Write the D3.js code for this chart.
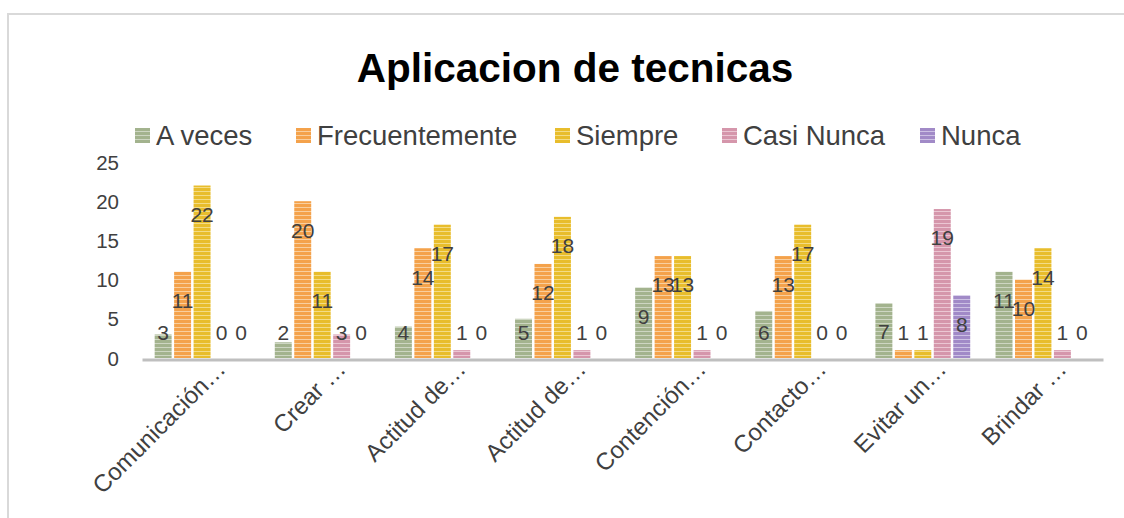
<!DOCTYPE html>
<html>
<head>
<meta charset="utf-8">
<script src="https://cdn.jsdelivr.net/npm/d3@7"></script>
<style>
  body { margin: 0; background: #fff; }
  text { font-family: "Liberation Sans", Arial, sans-serif; fill: #404040; }
</style>
</head>
<body>
<div id="chart"></div>
<script>
let svgWidth = 1124;
let svgHeight = 518;

// data
let categories = ["Comunicación…", "Crear …", "Actitud de…", "Actitud de…",
                  "Contención…", "Contacto…", "Evitar un…", "Brindar …"];
let seriesNames = ["A veces", "Frecuentemente", "Siempre", "Casi Nunca", "Nunca"];
let aVeces = [3, 2, 4, 5, 9, 6, 7, 11];
let frecuentemente = [11, 20, 14, 12, 13, 13, 1, 10];
let siempre = [22, 11, 17, 18, 13, 17, 1, 14];
let casiNunca = [0, 3, 1, 1, 1, 0, 19, 1];
let nunca = [0, 0, 0, 0, 0, 0, 8, 0];
let yTicks = [0, 5, 10, 15, 20, 25];

let seriesValues = [aVeces, frecuentemente, siempre, casiNunca, nunca];
let colors = ["#a3b38e", "#f4a24b", "#e8bd2c", "#d596ab", "#a18ac7"];
let stripes = ["#cdd6c2", "#f9cf9f", "#f3dc86", "#ebc6d3", "#cdc1e4"];

let plot = { left: 142, right: 1103, top: 162, bottom: 358 };

let svg = d3.select("#chart")
    .append("svg")
    .attr("width", svgWidth)
    .attr("height", svgHeight);

// striped fills
let defs = svg.append("defs");
colors.forEach((c, i) => {
    let p = defs.append("pattern")
        .attr("id", "pat" + i)
        .attr("patternUnits", "userSpaceOnUse")
        .attr("width", 8)
        .attr("height", 4);
    p.append("rect").attr("width", 8).attr("height", 4).attr("fill", c);
    p.append("rect").attr("y", 3).attr("width", 8).attr("height", 1).attr("fill", stripes[i]);
});

// chart border
svg.append("rect")
    .attr("x", 8)
    .attr("y", 14)
    .attr("width", 1140)
    .attr("height", 530)
    .attr("fill", "none")
    .attr("stroke", "#d9d9d9")
    .attr("stroke-width", 2);

// title
svg.append("text")
    .attr("x", 575)
    .attr("y", 82)
    .attr("text-anchor", "middle")
    .attr("font-size", "40.5px")
    .attr("font-weight", "bold")
    .style("fill", "#000")
    .text("Aplicacion de tecnicas");

// legend
let legendX = [135, 296, 555, 722, 920];
let legend = svg.append("g");
seriesNames.forEach((name, i) => {
    legend.append("rect")
        .attr("x", legendX[i])
        .attr("y", 128)
        .attr("width", 15)
        .attr("height", 15)
        .attr("fill", `url(#pat${i})`);
    legend.append("text")
        .attr("x", legendX[i] + 21)
        .attr("y", 145)
        .attr("font-size", "27.5px")
        .text(name);
});

let x0 = d3.scaleBand()
    .domain(d3.range(categories.length))
    .range([plot.left, plot.right])
    .paddingInner(0.19)
    .paddingOuter(0.095);

let x1 = d3.scaleBand()
    .domain(d3.range(seriesNames.length))
    .range([0, x0.bandwidth()]);

let yScale = d3.scaleLinear()
    .domain([0, 25])
    .range([plot.bottom, plot.top]);

// y axis labels only
let leftAxis = d3.axisLeft(yScale).tickValues(yTicks).tickSize(0).tickPadding(0);
let yAxis = svg.append("g")
    .attr("transform", `translate(119, 0)`)
    .call(leftAxis);
yAxis.select(".domain").remove();
yAxis.selectAll("text")
    .attr("font-size", "20.5px")
    .attr("font-family", "Liberation Sans, Arial, sans-serif")
    .attr("dy", "0.35em")
    .attr("fill", "#404040");

// bars
let cells = [];
seriesValues.forEach((vals, s) => {
    vals.forEach((v, c) => cells.push({ s: s, c: c, v: v }));
});

svg.selectAll(".bar")
    .data(cells)
    .enter()
    .append("rect")
    .classed("bar", true)
    .attr("x", d => x0(d.c) + x1(d.s) + 1.25)
    .attr("width", x1.bandwidth() - 2.5)
    .attr("y", d => yScale(d.v))
    .attr("height", d => yScale(0) - yScale(d.v))
    .attr("fill", d => `url(#pat${d.s})`);

// category axis line
let bottomAxis = d3.axisBottom(x0).tickSize(0).tickFormat(i => categories[i]);
let xAxis = svg.append("g")
    .attr("transform", `translate(0, ${plot.bottom + 1.5})`)
    .call(bottomAxis);
xAxis.select(".domain")
    .attr("stroke", "#bfbfbf")
    .attr("stroke-width", 3);
xAxis.selectAll("text")
    .attr("font-size", "24px")
    .attr("font-family", "Liberation Sans, Arial, sans-serif")
    .attr("fill", "#404040")
    .attr("text-anchor", "end")
    .attr("y", 0)
    .attr("dy", 0)
    .attr("transform", "translate(25, 11) rotate(-45)");

// data labels
svg.selectAll(".vlabel")
    .data(cells)
    .enter()
    .append("text")
    .classed("vlabel", true)
    .attr("x", d => x0(d.c) + x1(d.s) + x1.bandwidth() / 2)
    .attr("y", d => Math.min(yScale(d.v) + 29, 333))
    .attr("dy", "0.35em")
    .attr("text-anchor", "middle")
    .attr("font-size", "21px")
    .text(d => d.v);
</script>
</body>
</html>
